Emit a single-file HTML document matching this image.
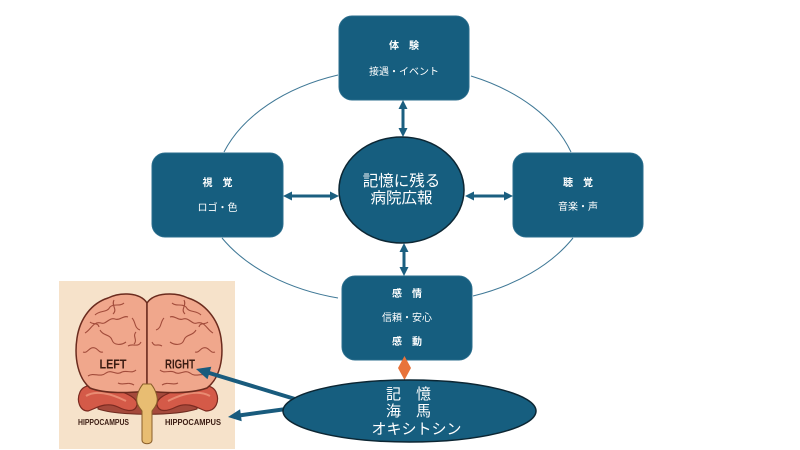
<!DOCTYPE html>
<html>
<head>
<meta charset="utf-8">
<style>
  html,body{margin:0;padding:0;background:#ffffff;}
  body{width:800px;height:450px;overflow:hidden;}
  svg{display:block;}
  .jp{font-family:"Liberation Sans","Noto Sans CJK JP",sans-serif;}
</style>
</head>
<body>
<svg width="800" height="450" viewBox="0 0 800 450" xmlns="http://www.w3.org/2000/svg">
  <rect x="0" y="0" width="800" height="450" fill="#ffffff"/>

  <!-- background ring arcs -->
  <g fill="none" stroke="#3f7896" stroke-width="1">
    <path d="M 224 152 A 185 125 0 0 1 338 75"/>
    <path d="M 471 76 A 185 125 0 0 1 571 152"/>
    <path d="M 222 238 A 185 125 0 0 0 338 298"/>
    <path d="M 473 296 A 185 125 0 0 0 573 238"/>
  </g>

  <!-- boxes -->
  <g fill="#165e7f" stroke="#2b6e8d" stroke-width="1">
    <rect x="339" y="16" width="130" height="84" rx="13" ry="13"/>
    <rect x="152" y="153" width="131" height="84" rx="13" ry="13"/>
    <rect x="513" y="153" width="130" height="84" rx="13" ry="13"/>
    <rect x="342" y="276" width="130" height="84" rx="13" ry="13"/>
  </g>

  <!-- box text -->
  <g class="jp" fill="#ffffff" font-size="10" text-anchor="middle">
    <text x="404" y="49" font-weight="bold">体　験</text>
    <text x="404" y="75">接遇・イベント</text>
    <text x="217.5" y="186" font-weight="bold">視　覚</text>
    <text x="217.5" y="211">ロゴ・色</text>
    <text x="578" y="186" font-weight="bold">聴　覚</text>
    <text x="578" y="210">音楽・声</text>
    <text x="407" y="297" font-weight="bold">感　情</text>
    <text x="407" y="321">信頼・安心</text>
    <text x="407" y="345" font-weight="bold">感　動</text>
  </g>

  <!-- bidirectional arrows -->
  <g stroke="#1b5f80" stroke-width="3">
    <line x1="290" y1="196" x2="332" y2="196"/>
    <line x1="472" y1="196" x2="506" y2="196"/>
    <line x1="403" y1="107" x2="403" y2="130"/>
    <line x1="404" y1="250" x2="404" y2="269"/>
  </g>
  <g fill="#1b5f80">
    <polygon points="283,196 292,191.5 292,200.5"/>
    <polygon points="339,196 330,191.5 330,200.5"/>
    <polygon points="465,196 474,191.5 474,200.5"/>
    <polygon points="513,196 504,191.5 504,200.5"/>
    <polygon points="403,100 398.5,109 407.5,109"/>
    <polygon points="403,137 398.5,128 407.5,128"/>
    <polygon points="404,243 399.5,252 408.5,252"/>
    <polygon points="404,276 399.5,267 408.5,267"/>
  </g>

  <!-- center ellipse -->
  <ellipse cx="401.5" cy="190" rx="62.5" ry="53" fill="#165e7f" stroke="#0c2633" stroke-width="1.5"/>
  <g class="jp" fill="#ffffff" font-size="15.5" text-anchor="middle">
    <text x="401.5" y="186">記憶に残る</text>
    <text x="401.5" y="203">病院広報</text>
  </g>

  <!-- brain image -->
  <rect x="59" y="281" width="176" height="168" fill="#f6e2ca"/>
  <!-- cerebellum dark area -->
  <path d="M98,386 C115,394 130,392 147,390 C165,392 180,394 197,386 L197,409 C175,416 120,416 98,409 Z" fill="#a5493b" stroke="#6e2a1f" stroke-width="1"/>
  <!-- temporal lobes -->
  <g>
    <path d="M80,392 C84,383 100,383 115,389 C128,394 138,398 137,405 C135,413 126,411 118,407 C105,401 95,409 88,411 C80,411 76,401 80,392 Z" fill="#d45a48" stroke="#7b2a20" stroke-width="1.2"/>
    <path d="M86,396 C95,390 110,393 126,401" fill="none" stroke="#e98b72" stroke-width="2"/>
  </g>
  <g transform="translate(294,0) scale(-1,1)">
    <path d="M78,392 C82,383 100,383 115,389 C128,394 138,398 137,405 C135,413 126,411 118,407 C105,401 95,409 88,411 C78,411 74,401 78,392 Z" fill="#d45a48" stroke="#7b2a20" stroke-width="1.2"/>
    <path d="M84,396 C95,390 110,393 126,401" fill="none" stroke="#e98b72" stroke-width="2"/>
  </g>
  <!-- hemispheres -->
  <path d="M147,303 C140,292 120,292 108,298 C92,303 80,318 77,338 C74,358 78,378 90,388 C105,394 130,393 147,391 Z" fill="#f0a78c" stroke="#6b2b1e" stroke-width="1.5"/>
  <path d="M147,303 C154,292 176,292 188,298 C204,303 218,318 221,338 C224,358 220,378 207,388 C190,394 165,393 147,391 Z" fill="#f0a78c" stroke="#6b2b1e" stroke-width="1.5"/>
  <g fill="none" stroke="#a24c3b" stroke-width="1.1">
    <path d="M95,315 c5,-5 12,-2 15,-8 c4,-4 10,0 14,-4"/>
    <path d="M85,333 c6,-3 8,-12 16,-10 c5,2 8,-6 14,-4 c5,2 8,-4 13,-2"/>
    <path d="M100,330 c3,6 10,4 12,10 c2,6 10,5 14,2"/>
    <path d="M83,352 c5,2 6,-6 12,-4 c3,1 4,5 8,4"/>
    <path d="M128,346 c5,-3 10,2 13,-4"/>
    <path d="M88,376 c6,-4 12,2 18,-3 c6,-4 10,3 16,-1 c5,-2 10,2 14,-2"/>
    <path d="M132,318 c4,4 2,10 8,12"/>
    <path d="M118,383 c5,3 10,-2 16,2"/>
    <path d="M114,300 c-3,6 4,9 -1,14"/>
    <path d="M90,322 c3,3 8,0 9,5"/>
    <path d="M136,332 c-4,4 2,8 -2,12"/>
  </g>
  <g fill="none" stroke="#a24c3b" stroke-width="1.1" transform="translate(296,0) scale(-1,1)">
    <path d="M95,315 c5,-5 12,-2 15,-8 c4,-4 10,0 14,-4"/>
    <path d="M83,333 c6,-3 8,-12 16,-10 c5,2 8,-6 14,-4 c5,2 8,-4 13,-2"/>
    <path d="M100,330 c3,6 10,4 12,10 c2,6 10,5 14,2"/>
    <path d="M81,352 c5,2 6,-6 12,-4 c3,1 4,5 8,4"/>
    <path d="M134,346 c5,-3 7,2 10,-4"/>
    <path d="M88,376 c6,-4 12,2 18,-3 c6,-4 10,3 16,-1 c5,-2 10,2 14,-2"/>
    <path d="M132,318 c4,4 2,10 8,12"/>
    <path d="M118,383 c5,3 10,-2 16,2"/>
    <path d="M112,300 c-3,6 4,9 -1,14"/>
    <path d="M88,322 c3,3 8,0 9,5"/>
  </g>
  <!-- brainstem -->
  <path d="M143,384 C138,390 136,398 137,402 C138,407 141,409 142,411 L142,440 C142,445 152,445 152,440 L152,411 C153,409 156,407 157,402 C158,398 156,390 151,384 Z" fill="#e8bd72" stroke="#8a5e2a" stroke-width="1"/>
  <!-- brain labels -->
  <g font-family="'Liberation Sans',sans-serif" font-weight="bold" fill="#3b1c12" text-anchor="middle">
    <text x="113" y="368.5" font-size="12.5" textLength="27" lengthAdjust="spacingAndGlyphs">LEFT</text>
    <text x="180" y="368.5" font-size="12.5" textLength="30" lengthAdjust="spacingAndGlyphs">RIGHT</text>
    <text x="103.5" y="425" font-size="8" textLength="51" lengthAdjust="spacingAndGlyphs">HIPPOCAMPUS</text>
    <text x="193" y="425" font-size="8" textLength="56" lengthAdjust="spacingAndGlyphs">HIPPOCAMPUS</text>
  </g>

  <!-- arrows to brain -->
  <g stroke="#195b7d" stroke-width="4" stroke-linecap="butt">
    <line x1="295" y1="399" x2="206" y2="372"/>
    <line x1="290" y1="408.5" x2="238" y2="415.6"/>
  </g>
  <g fill="#195b7d">
    <polygon points="196,369 211.3,366.8 207.5,379.3"/>
    <polygon points="228,417 240.1,409.3 241.7,421.2"/>
  </g>

  <!-- orange diamond -->
  <polygon points="404.5,356 411,368 404.5,380 398,368" fill="#e8733a"/>

  <!-- bottom ellipse -->
  <ellipse cx="409.5" cy="411" rx="126.5" ry="31" fill="#165e7f" stroke="#0c2633" stroke-width="1.5"/>
  <g class="jp" fill="#ffffff" font-size="15" text-anchor="middle">
    <text x="408.5" y="399">記　憶</text>
    <text x="408.5" y="416">海　馬</text>
    <text x="416.5" y="434">オキシトシン</text>
  </g>
</svg>
</body>
</html>
